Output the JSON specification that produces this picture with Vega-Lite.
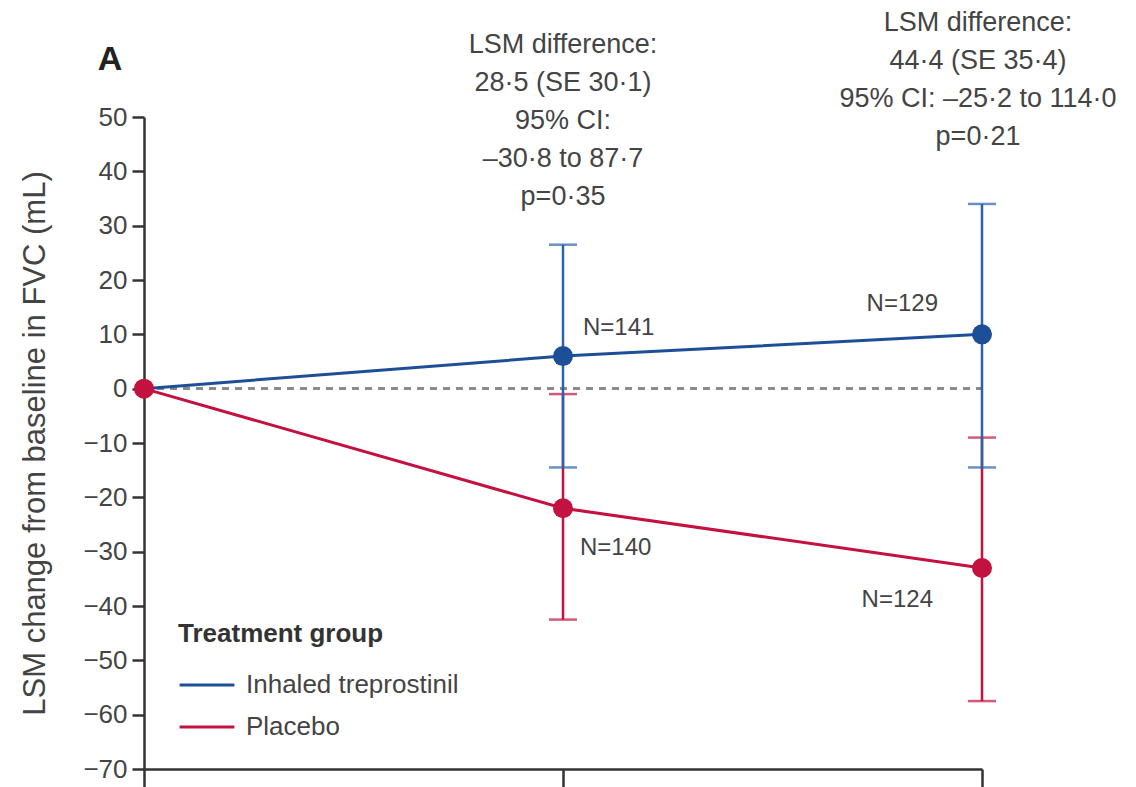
{
  "$schema": "https://vega.github.io/schema/vega-lite/v6.json",
  "width": 838,
  "height": 652,
  "autosize": {"type": "none"},
  "padding": {"left": 144, "top": 117, "right": 154, "bottom": 18},
  "background": "white",
  "config": {
    "view": {"stroke": null},
    "font": "Liberation Sans, sans-serif",
    "axis": {"grid": false, "domainColor": "#333333", "domainWidth": 2.5, "tickColor": "#333333", "tickWidth": 2.5, "labelColor": "#444444", "titleColor": "#444444"}
  },
  "datasets": {
    "pts": [
      {"group": "Inhaled treprostinil", "week": 0, "lsm": 0},
      {"group": "Inhaled treprostinil", "week": 8, "lsm": 6, "lo": -14.5, "hi": 26.5, "n": "N=141"},
      {"group": "Inhaled treprostinil", "week": 16, "lsm": 10, "lo": -14.5, "hi": 34, "n": "N=129"},
      {"group": "Placebo", "week": 0, "lsm": 0},
      {"group": "Placebo", "week": 8, "lsm": -22, "lo": -42.5, "hi": -1, "n": "N=140"},
      {"group": "Placebo", "week": 16, "lsm": -33, "lo": -57.5, "hi": -9, "n": "N=124"}
    ],
    "annot": [
      {"week": 8, "block": "a", "txt": "LSM difference:|28·5 (SE 30·1)|95% CI:|–30·8 to 87·7|p=0·35"},
      {"week": 16, "block": "b", "txt": "LSM difference:|44·4 (SE 35·4)|95% CI: –25·2 to 114·0|p=0·21"},
      {"week": 0, "block": "panel", "txt": "A"}
    ]
  },
  "layer": [
    {
      "data": {"name": "pts"},
      "encoding": {
        "x": {"field": "week", "type": "quantitative", "scale": {"domain": [0, 16], "nice": false, "zero": false},
          "axis": {"values": [0, 8, 16], "labels": false, "title": null, "tickSize": 18}},
        "y": {"field": "lsm", "type": "quantitative", "scale": {"domain": [-70, 50], "nice": false, "zero": false},
          "axis": {"values": [-70, -60, -50, -40, -30, -20, -10, 0, 10, 20, 30, 40, 50], "title": "LSM change from baseline in FVC (mL)", "titleFontSize": 31, "titleFontWeight": "normal", "labelFontSize": 26, "tickSize": 12, "labelPadding": 5, "titlePadding": 31}}
      },
      "layer": [
        {
          "mark": {"type": "rule", "strokeDash": [7, 6], "color": "#8a8a8a", "strokeWidth": 2.5},
          "encoding": {"x": {"datum": 0}, "x2": {"datum": 16}, "y": {"datum": 0}}
        },
        {
          "transform": [{"filter": "datum.lo != null && datum.group == 'Placebo'"}],
          "mark": {"type": "rule", "strokeWidth": 2.5, "color": "#c3123f"},
          "encoding": {"y": {"field": "lo", "type": "quantitative"}, "y2": {"field": "hi"}}
        },
        {
          "transform": [{"filter": "datum.lo != null && datum.group == 'Placebo'"}, {"fold": ["lo", "hi"], "as": ["end", "val"]}],
          "mark": {"type": "tick", "orient": "horizontal", "size": 28, "thickness": 2.5, "color": "#c3123f"},
          "encoding": {"y": {"field": "val", "type": "quantitative"}}
        },
        {
          "transform": [{"filter": "datum.lo != null && datum.group != 'Placebo'"}],
          "mark": {"type": "rule", "strokeWidth": 2.5, "color": "#2a62ad"},
          "encoding": {"y": {"field": "lo", "type": "quantitative"}, "y2": {"field": "hi"}}
        },
        {
          "transform": [{"filter": "datum.lo != null && datum.group != 'Placebo'"}, {"fold": ["lo", "hi"], "as": ["end", "val"]}],
          "mark": {"type": "tick", "orient": "horizontal", "size": 28, "thickness": 2.5, "color": "#2a62ad"},
          "encoding": {"y": {"field": "val", "type": "quantitative"}}
        },
        {
          "mark": {"type": "line", "strokeWidth": 3},
          "encoding": {
            "color": {"field": "group", "type": "nominal", "sort": ["Inhaled treprostinil", "Placebo"],
              "scale": {"domain": ["Inhaled treprostinil", "Placebo"], "range": ["#1c4f98", "#c3123f"]},
              "legend": {"title": "Treatment group", "orient": "none", "legendX": 34, "legendY": 504, "symbolType": "stroke", "symbolSize": 3000, "symbolStrokeWidth": 3, "titleFontSize": 26, "titleFontWeight": "bold", "titleColor": "#333333", "labelFontSize": 26, "labelColor": "#444444", "rowPadding": 0, "labelOffset": 10, "titlePadding": 9, "labelLimit": 0, "titleLimit": 0}}
          }
        },
        {
          "transform": [{"filter": "datum.group == 'Placebo' || datum.week > 0"}],
          "mark": {"type": "circle", "size": 400, "opacity": 1},
          "encoding": {"color": {"field": "group", "type": "nominal", "scale": {"domain": ["Inhaled treprostinil", "Placebo"], "range": ["#1c4f98", "#c3123f"]}, "legend": null}}
        },
        {
          "transform": [{"filter": "datum.week == 8 && datum.group != 'Placebo'"}],
          "mark": {"type": "text", "align": "left", "baseline": "middle", "dx": 20, "dy": -28, "fontSize": 24, "color": "#444444"},
          "encoding": {"text": {"field": "n", "type": "nominal"}}
        },
        {
          "transform": [{"filter": "datum.week == 8 && datum.group == 'Placebo'"}],
          "mark": {"type": "text", "align": "left", "baseline": "middle", "dx": 17, "dy": 40, "fontSize": 24, "color": "#444444"},
          "encoding": {"text": {"field": "n", "type": "nominal"}}
        },
        {
          "transform": [{"filter": "datum.week == 16 && datum.group != 'Placebo'"}],
          "mark": {"type": "text", "align": "right", "baseline": "middle", "dx": -44, "dy": -30, "fontSize": 24, "color": "#444444"},
          "encoding": {"text": {"field": "n", "type": "nominal"}}
        },
        {
          "transform": [{"filter": "datum.week == 16 && datum.group == 'Placebo'"}],
          "mark": {"type": "text", "align": "right", "baseline": "middle", "dx": -49, "dy": 32, "fontSize": 24, "color": "#444444"},
          "encoding": {"text": {"field": "n", "type": "nominal"}}
        }
      ]
    },
    {
      "data": {"name": "annot"},
      "transform": [{"filter": "datum.block == 'a'"}],
      "mark": {"type": "text", "align": "center", "baseline": "top", "lineBreak": "|", "lineHeight": 38, "fontSize": 27, "color": "#444444", "dy": -85},
      "encoding": {"text": {"field": "txt", "type": "nominal"}, "x": {"field": "week", "type": "quantitative"}, "y": {"datum": 50, "type": "quantitative"}}
    },
    {
      "data": {"name": "annot"},
      "transform": [{"filter": "datum.block == 'b'"}],
      "mark": {"type": "text", "align": "center", "baseline": "top", "lineBreak": "|", "lineHeight": 38, "fontSize": 27, "color": "#444444", "dy": -107, "dx": -4},
      "encoding": {"text": {"field": "txt", "type": "nominal"}, "x": {"field": "week", "type": "quantitative"}, "y": {"datum": 50, "type": "quantitative"}}
    },
    {
      "data": {"name": "annot"},
      "transform": [{"filter": "datum.block == 'panel'"}],
      "mark": {"type": "text", "align": "center", "baseline": "middle", "fontSize": 34, "fontWeight": "bold", "color": "#222222", "dx": -34, "dy": -57},
      "encoding": {"text": {"field": "txt", "type": "nominal"}, "x": {"field": "week", "type": "quantitative"}, "y": {"datum": 50, "type": "quantitative"}}
    }
  ]
}
